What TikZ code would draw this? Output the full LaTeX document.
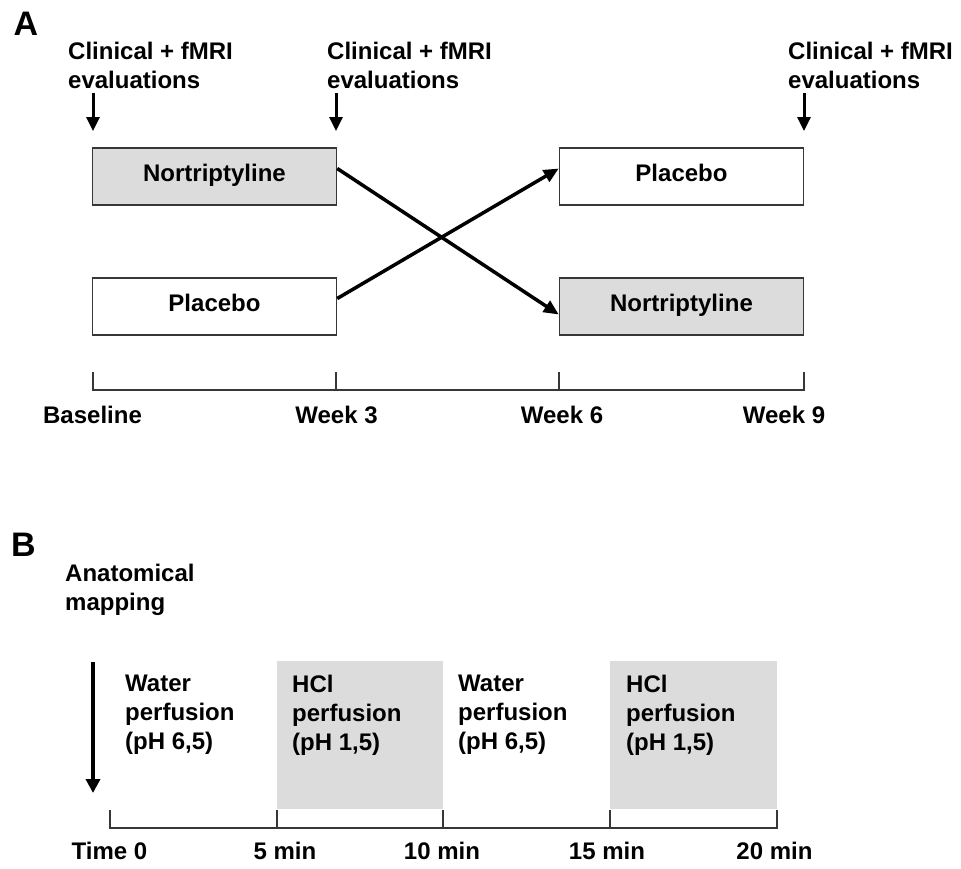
\documentclass[tikz,border=0pt]{standalone}
\usepackage{fontspec}
\setmainfont{Liberation Sans}
\usetikzlibrary{arrows.meta}
\definecolor{boxgray}{RGB}{220,220,220}
\definecolor{axisgray}{RGB}{55,55,55}
\begin{document}
\begin{tikzpicture}[x=1pt,y=-1pt,
  txt/.style={font=\bfseries\fontsize{24}{29}\selectfont, inner sep=0pt},
  biglabel/.style={font=\bfseries\fontsize{34}{40}\selectfont, inner sep=0pt},
  drugbox/.style={draw=axisgray, line width=1.5pt, minimum width=244pt, minimum height=57pt,
    inner sep=0pt, text height=17.5pt, text depth=8pt, font=\bfseries\fontsize{24}{29}\selectfont},
  evalarrow/.style={line width=3pt, -{Triangle[length=14pt,width=13pt]}},
  crossarrow/.style={line width=3.5pt, -{Triangle[length=15pt,width=13pt]}},
  axisline/.style={draw=axisgray, line width=1.6pt}
]
\useasboundingbox (0,0) rectangle (961,868);

% ---------------- Panel A ----------------
\node[biglabel, anchor=base] (labA) at (26,35) {A};

\node[txt, anchor=north west, align=left] (ev1) at (68,42) {Clinical + fMRI\\evaluations};
\node[txt, anchor=north west, align=left] (ev2) at (327,42) {Clinical + fMRI\\evaluations};
\node[txt, anchor=north west, align=left] (ev3) at (788,42) {Clinical + fMRI\\evaluations};

\coordinate (a1s) at (93,93);  \coordinate (a1e) at (93,131);
\coordinate (a2s) at (336,93); \coordinate (a2e) at (336,131);
\coordinate (a3s) at (804,93); \coordinate (a3e) at (804,131);
\draw[evalarrow] (a1s) -- (a1e);
\draw[evalarrow] (a2s) -- (a2e);
\draw[evalarrow] (a3s) -- (a3e);

\node[drugbox, fill=boxgray] (nor1) at (214.5,176.5) {Nortriptyline};
\node[drugbox, fill=white]   (pla1) at (214.5,306.5) {Placebo};
\node[drugbox, fill=white]   (pla2) at (681.5,176.5) {Placebo};
\node[drugbox, fill=boxgray] (nor2) at (681.5,306.5) {Nortriptyline};

\draw[crossarrow] ([yshift=8pt]nor1.east) -- ([yshift=-8pt]nor2.west);
\draw[crossarrow] ([yshift=8pt]pla1.east) -- ([yshift=8pt]pla2.west);

\draw[axisline] (93,372) -- (93,390) -- (804,390) -- (804,372);
\draw[axisline] (336,372) -- (336,390);
\draw[axisline] (559,372) -- (559,390);

\node[txt, anchor=base] (wk0) at (92.5,423) {Baseline};
\node[txt, anchor=base] (wk3) at (336.5,423) {Week 3};
\node[txt, anchor=base] (wk6) at (562,423) {Week 6};
\node[txt, anchor=base] (wk9) at (784,423) {Week 9};

% ---------------- Panel B ----------------
\node[biglabel, anchor=base] (labB) at (23.5,556) {B};

\node[txt, anchor=north west, align=left] (anat) at (65,564) {Anatomical\\mapping};

\fill[boxgray] (277,661) rectangle (443,809);
\fill[boxgray] (610,661) rectangle (777,809);

\coordinate (bs) at (93,662); \coordinate (be) at (93,793);
\draw[line width=3.5pt, -{Triangle[length=14pt,width=14pt]}] (bs) -- (be);

\node[txt, anchor=north west, align=left] (w1) at (125,675) {Water\\perfusion\\(pH 6,5)};
\node[txt, anchor=north west, align=left] (h1) at (292,675) {HCl\\perfusion\\(pH 1,5)};
\node[txt, anchor=north west, align=left] (w2) at (458,675) {Water\\perfusion\\(pH 6,5)};
\node[txt, anchor=north west, align=left] (h2) at (626,675) {HCl\\perfusion\\(pH 1,5)};

\draw[axisline] (110,810) -- (110,828) -- (777,828) -- (777,810);
\draw[axisline] (277,810) -- (277,828);
\draw[axisline] (443,810) -- (443,828);
\draw[axisline] (610,810) -- (610,828);

\node[txt, anchor=base] (t0)  at (109.5,859) {Time 0};
\node[txt, anchor=base] (t5)  at (285,859) {5 min};
\node[txt, anchor=base] (t10) at (442,859) {10 min};
\node[txt, anchor=base] (t15) at (607,859) {15 min};
\node[txt, anchor=base] (t20) at (774.5,859) {20 min};
\end{tikzpicture}
\end{document}
